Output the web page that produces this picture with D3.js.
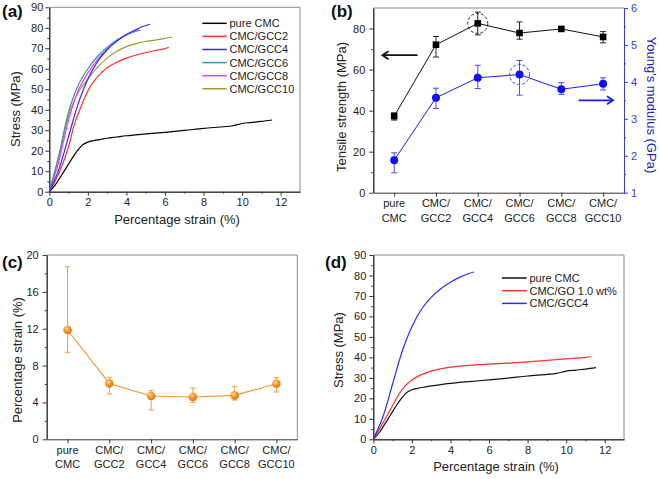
<!DOCTYPE html>
<html><head><meta charset="utf-8">
<script src="https://cdn.jsdelivr.net/npm/d3@7"></script>
<style>body{margin:0;background:#fff}</style>
</head><body><svg id="c" width="660" height="479"></svg>
<script>
// ---------- DATA ----------
const seriesNamesA = ["pure CMC","CMC/GCC2","CMC/GCC4","CMC/GCC6","CMC/GCC8","CMC/GCC10"];
const pureCMC = [[0,0],[0.3,3.2],[0.6,7.5],[0.9,12],[1.2,16.5],[1.5,20.5],[1.75,23],[2,24.2],[2.3,24.9],[2.7,25.6],[3,26.1],[3.5,26.7],[4,27.3],[5,28.2],[6,29],[7,29.9],[8,30.9],[9,31.7],[9.5,32.2],[10,33.3],[10.5,33.8],[11,34.3],[11.55,35]];
const gcc2 = [[0,0],[0.5,9],[1,22],[1.3,33],[1.5,38],[1.8,45],[2.1,51],[2.4,55],[2.7,58],[3,60.5],[3.5,63.2],[4,65.2],[4.5,66.7],[5,67.8],[5.5,68.9],[6,69.8],[6.2,70.5]];
const gcc4 = [[0,0],[0.5,11],[1,27],[1.5,43],[2,55],[2.5,63.5],[3,69.3],[3.5,73.5],[4,76.7],[4.5,79.2],[5,81.1],[5.22,81.7]];
const gcc6 = [[0,0],[0.5,18],[1,39],[1.5,52],[2,60],[2.5,66],[3,70.5],[3.5,74],[4,76.6],[4.5,78.3],[4.75,78.8]];
const gcc8 = [[0,0],[0.5,15],[1,35],[1.5,49.5],[2,58],[2.5,64.5],[3,69.5],[3.5,73.5],[4,76.5],[4.5,78.6],[4.65,79]];
const gcc10 = [[0,0],[0.5,17],[1,37],[1.5,48.5],[2,55],[2.5,60.8],[3,65.2],[3.5,68.5],[4,70.8],[4.5,72.3],[5,73.3],[5.5,74],[6,74.8],[6.38,75.5]];
const cmcGO = [[0,0],[0.5,8],[1,16.5],[1.3,21.5],[1.6,25.5],[2,29],[2.5,31.6],[3,33.3],[3.5,34.4],[4,35.2],[5,36.1],[6,36.7],[7,37.2],[8,37.8],[9,38.5],[10,39.3],[11,40],[11.3,40.3]];
const seriesNamesD = ["pure CMC","CMC/GO 1.0 wt%","CMC/GCC4"];

const categories = ["pure CMC","CMC/GCC2","CMC/GCC4","CMC/GCC6","CMC/GCC8","CMC/GCC10"];
const catLine1 = ["pure","CMC/","CMC/","CMC/","CMC/","CMC/"];
const catLine2 = ["CMC","GCC2","GCC4","GCC6","GCC8","GCC10"];
const tensile = [37.3, 72.1, 82.5, 77.8, 79.8, 75.9];
const tensileHi = [38.9, 76.1, 88.0, 83.2, 80.3, 78.5];
const tensileLo = [35.4, 66.1, 76.9, 74.8, 79.3, 73.0];
const modulus = [1.88, 3.57, 4.11, 4.20, 3.80, 3.95];
const modulusHi = [2.08, 3.83, 4.45, 4.58, 3.98, 4.11];
const modulusLo = [1.54, 3.28, 3.82, 3.64, 3.66, 3.78];
const strain = [11.86, 6.06, 4.70, 4.59, 4.77, 6.03];
const strainHi = [18.73, 6.73, 5.28, 5.57, 5.75, 6.69];
const strainLo = [9.44, 4.92, 3.18, 4.01, 4.26, 5.13];

const stressTicks = [0,10,20,30,40,50,60,70,80,90];
const strainAxisTicks = [0,2,4,6,8,10,12];
const tensileTicks = [0,20,40,60,80];
const modulusTicks = [1,2,3,4,5,6];
const strainTicksC = [0,4,8,12,16,20];

// ---------- HELPERS ----------
const FONT = "Arial, 'Liberation Sans', sans-serif";
const svg = d3.select("#c");
const AX = "#333", FR = "#8a8a8a", TX = "#222";
const CURVE = d3.curveCatmullRom.alpha(0.5);

function axis(scale, orient, pos, majors, minors, pad, color, tcolor) {
  const fn = {left:d3.axisLeft, right:d3.axisRight, bottom:d3.axisBottom}[orient];
  const tr = orient === "bottom" ? `translate(0,${pos})` : `translate(${pos},0)`;
  const col = color || AX;
  const g1 = svg.append("g").attr("transform", tr)
    .call(fn(scale).tickValues(minors).tickSize(2).tickSizeOuter(0).tickFormat(""));
  const g2 = svg.append("g").attr("transform", tr)
    .call(fn(scale).tickValues(majors).tickSize(4).tickSizeOuter(0).tickPadding(pad).tickFormat(d3.format("d")));
  [g1, g2].forEach(g => {
    g.select(".domain").attr("stroke", col).attr("stroke-width", 1);
    g.selectAll("line").attr("stroke", col);
    g.selectAll("text").attr("fill", tcolor || TX).style("font-size", "11px").style("font-family", FONT);
  });
}
function catAxis(scale, pos) {
  const g = svg.append("g").attr("transform", `translate(0,${pos})`)
    .call(d3.axisBottom(scale).tickSize(4).tickSizeOuter(0).tickFormat(""));
  g.select(".domain").attr("stroke", AX);
  g.selectAll("line").attr("stroke", AX);
  categories.forEach((c, i) => {
    const t = svg.append("text").attr("x", scale(c)).attr("text-anchor", "middle")
      .style("font-size", "11px").style("font-family", FONT).attr("fill", TX);
    t.append("tspan").attr("x", scale(c)).attr("y", pos + 14.5).text(catLine1[i]);
    t.append("tspan").attr("x", scale(c)).attr("y", pos + 28.8).text(catLine2[i]);
  });
}
function frame(x0, x1, y0, y1, right) {
  svg.append("line").attr("x1", x0).attr("x2", x1).attr("y1", y0).attr("y2", y0).attr("stroke", FR);
  if (right) svg.append("line").attr("x1", x1).attr("x2", x1).attr("y1", y0).attr("y2", y1).attr("stroke", FR);
}
function vtitle(txt, x, y, rot, color) {
  svg.append("text").attr("transform", `translate(${x},${y}) rotate(${rot})`)
    .attr("text-anchor", "middle").style("font-size", "13px").style("font-family", FONT)
    .attr("fill", color || TX).text(txt);
}
function htitle(txt, x, y) {
  svg.append("text").attr("x", x).attr("y", y).attr("text-anchor", "middle")
    .style("font-size", "13px").style("font-family", FONT).attr("fill", TX).text(txt);
}
function plabel(txt, x, y) {
  svg.append("text").attr("x", x).attr("y", y).style("font-size", "17px").style("font-weight", "bold")
    .style("font-family", FONT).attr("fill", "#111").text(txt);
}
function errbars(xs, ys, cats, hi, lo, color, capw) {
  cats.forEach((c, i) => {
    const x = xs(c);
    svg.append("line").attr("x1", x).attr("x2", x).attr("y1", ys(hi[i])).attr("y2", ys(lo[i])).attr("stroke", color).attr("stroke-width", 1);
    [hi[i], lo[i]].forEach(v => svg.append("line").attr("x1", x - capw).attr("x2", x + capw)
      .attr("y1", ys(v)).attr("y2", ys(v)).attr("stroke", color).attr("stroke-width", 1));
  });
}

// ---------- PANEL (a) ----------
const xA = d3.scaleLinear().domain([0, 13]).range([49.3, 300]);
const yA = d3.scaleLinear().domain([0, 90]).range([191.7, 7.3]);
frame(49.3, 300, 7.3, 191.7, true);
axis(xA, "bottom", 191.7, strainAxisTicks, [1,3,5,7,9,11], 3);
axis(yA, "left", 49.3, stressTicks, [5,15,25,35,45,55,65,75,85], 2);
const colorsA = ["#000000", "#ff2a2a", "#2b2bff", "#2a9d9d", "#ff33ff", "#9c9c2c"];
const dataA = [pureCMC, gcc2, gcc4, gcc6, gcc8, gcc10];
const lineA = d3.line().x(d => xA(d[0])).y(d => yA(d[1])).curve(CURVE);
[0, 1, 5, 4, 3, 2].forEach(i => svg.append("path").attr("d", lineA(dataA[i])).attr("fill", "none")
  .attr("stroke", colorsA[i]).attr("stroke-width", 1.2));
seriesNamesA.forEach((n, i) => {
  const y = 23.3 + i * 13.1;
  svg.append("line").attr("x1", 202.3).attr("x2", 226.7).attr("y1", y).attr("y2", y).attr("stroke", colorsA[i]).attr("stroke-width", 1.5);
  svg.append("text").attr("x", 229.5).attr("y", y).attr("dy", "0.36em").style("font-size", "11px")
    .style("font-family", FONT).attr("fill", TX).text(n);
});
vtitle("Stress (MPa)", 19.5, 109, -90);
htitle("Percentage strain (%)", 177, 224);
plabel("(a)", 2, 17);

// ---------- PANEL (b) ----------
const xB = d3.scalePoint().domain(categories).range([373.3, 624]).padding(0.5);
const yBL = d3.scaleLinear().domain([0, 90]).range([192.7, 8]);
const yBR = d3.scaleLinear().domain([1, 6]).range([192.7, 8]);
frame(373.3, 624, 8, 192.7, false);
catAxis(xB, 192.7);
axis(yBL, "left", 373.3, tensileTicks, [10,30,50,70], 4);
const BLUE = "#1a1aff";
axis(yBR, "right", 624, modulusTicks, [1.5,2.5,3.5,4.5,5.5], 3, "#3a3ae0", "#3a3ae0");
errbars(xB, yBL, categories, tensileHi, tensileLo, "#222", 3);
svg.append("path").attr("d", d3.line().x((d, i) => xB(categories[i])).y(d => yBL(d))(tensile))
  .attr("fill", "none").attr("stroke", "#111").attr("stroke-width", 1);
svg.selectAll(null).data(tensile).enter().append("rect")
  .attr("x", (d, i) => xB(categories[i]) - 3.3).attr("y", d => yBL(d) - 3.3)
  .attr("width", 6.6).attr("height", 6.6).attr("fill", "#000");
errbars(xB, yBR, categories, modulusHi, modulusLo, "#4a4aff", 3);
svg.append("path").attr("d", d3.line().x((d, i) => xB(categories[i])).y(d => yBR(d))(modulus))
  .attr("fill", "none").attr("stroke", BLUE).attr("stroke-width", 1);
svg.selectAll(null).data(modulus).enter().append("circle")
  .attr("cx", (d, i) => xB(categories[i])).attr("cy", d => yBR(d)).attr("r", 4).attr("fill", "#1010ff");
svg.append("circle").attr("cx", xB(categories[2])).attr("cy", yBL(tensile[2])).attr("r", 10)
  .attr("fill", "none").attr("stroke", "#222").attr("stroke-dasharray", "3,2");
svg.append("circle").attr("cx", xB(categories[3])).attr("cy", yBR(modulus[3])).attr("r", 10)
  .attr("fill", "none").attr("stroke", "#3a3aff").attr("stroke-dasharray", "3,2");
function arrow(xa, xb, y, color, dir) {
  svg.append("line").attr("x1", xa).attr("x2", xb).attr("y1", y).attr("y2", y).attr("stroke", color).attr("stroke-width", 1.8);
  const tip = dir < 0 ? xa : xb;
  svg.append("path").attr("d", `M${tip - dir * 6},${y - 4} L${tip},${y} L${tip - dir * 6},${y + 4}`)
    .attr("fill", "none").attr("stroke", color).attr("stroke-width", 1.8);
}
arrow(382.5, 417.5, yBL(67), "#111", -1);
arrow(578.5, 613, yBR(3.5), "#1a1aff", 1);
vtitle("Tensile strength (MPa)", 345.5, 107, -90);
vtitle("Young's modulus (GPa)", 646.5, 105, 90, "#2020d0");
plabel("(b)", 331, 17);

// ---------- PANEL (c) ----------
const xC = d3.scalePoint().domain(categories).range([46.7, 297.3]).padding(0.5);
const yC = d3.scaleLinear().domain([0, 20]).range([439.3, 255]);
frame(46.7, 297.3, 255, 439.3, true);
catAxis(xC, 439.3);
axis(yC, "left", 46.7, strainTicksC, [2,6,10,14,18], 4);
const ORANGE = "#f39530";
errbars(xC, yC, categories, strainHi, strainLo, "#f39a40", 2.8);
svg.append("path").attr("d", d3.line().x((d, i) => xC(categories[i])).y(d => yC(d))(strain))
  .attr("fill", "none").attr("stroke", ORANGE).attr("stroke-width", 1.1);
const defs = svg.append("defs");
const rg = defs.append("radialGradient").attr("id", "ball").attr("cx", "40%").attr("cy", "35%").attr("r", "65%");
rg.append("stop").attr("offset", "0%").attr("stop-color", "#ffd9a0");
rg.append("stop").attr("offset", "55%").attr("stop-color", "#f5921e");
rg.append("stop").attr("offset", "100%").attr("stop-color", "#e07a0a");
svg.selectAll(null).data(strain).enter().append("circle")
  .attr("cx", (d, i) => xC(categories[i])).attr("cy", d => yC(d)).attr("r", 4.3).attr("fill", "url(#ball)");
vtitle("Percentage strain (%)", 21.5, 360, -90);
plabel("(c)", 2, 268);

// ---------- PANEL (d) ----------
const xD = d3.scaleLinear().domain([0, 13]).range([373.3, 624]);
const yD = d3.scaleLinear().domain([0, 90]).range([439.3, 255]);
frame(373.3, 624, 255, 439.3, true);
axis(xD, "bottom", 439.3, strainAxisTicks, [1,3,5,7,9,11], 3);
axis(yD, "left", 373.3, stressTicks, [5,15,25,35,45,55,65,75,85], 3);
const colorsD = ["#111111", "#ff3030", "#2b2bff"];
const dataD = [pureCMC, cmcGO, gcc4];
const lineD = d3.line().x(d => xD(d[0])).y(d => yD(d[1])).curve(CURVE);
dataD.forEach((d, i) => svg.append("path").attr("d", lineD(d)).attr("fill", "none")
  .attr("stroke", colorsD[i]).attr("stroke-width", 1.2));
seriesNamesD.forEach((n, i) => {
  const y = 278 + i * 12.7;
  svg.append("line").attr("x1", 502).attr("x2", 526.7).attr("y1", y).attr("y2", y).attr("stroke", colorsD[i]).attr("stroke-width", 1.5);
  svg.append("text").attr("x", 529.5).attr("y", y).attr("dy", "0.36em").style("font-size", "11px")
    .style("font-family", FONT).attr("fill", TX).text(n);
});
vtitle("Stress (MPa)", 342.5, 350, -90);
htitle("Percentage strain (%)", 496, 471);
plabel("(d)", 325, 268);
</script>
</body></html>
